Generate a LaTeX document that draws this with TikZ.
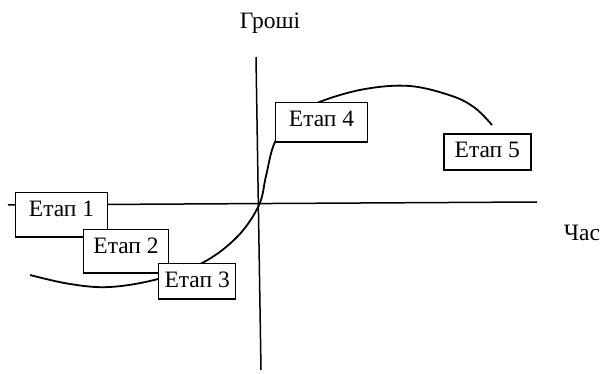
\documentclass[tikz,border=0pt]{standalone}
\usepackage{fontspec}
\setmainfont{Liberation Serif}
\usetikzlibrary{positioning}

\begin{document}
\begin{tikzpicture}[x=1pt,y=-1pt,line width=1.5pt,
    txt/.style={font=\fontsize{23.5}{27}\selectfont,inner sep=0pt},
    etap/.style={txt,draw,line width=1.1pt,fill=white,anchor=north west,text height=23.5pt}]
  \useasboundingbox (0,0) rectangle (603,374);

  % axes
  \coordinate (xl) at (8,205);
  \coordinate (xr) at (537,202);
  \coordinate (yt) at (256,57);
  \coordinate (yb) at (261,370);
  \draw (xl) -- (xr);
  \draw (yt) -- (yb);
  \node [txt,anchor=base] (groshi) at (270,29) {Гроші};
  \node [txt,anchor=base] (chas)   at (582,241) {Час};

  % curve
  \draw [line width=1.8pt] plot [smooth,tension=0.6] coordinates {
      (30,275) (70,284) (110,287) (158,279) (204,262) (238,236)
      (259,205) (266,176) (275,142) (295,115) (322,101) (365,89)
      (410,86) (452,96) (475,108) (492,125)};

  % stages
  \node [etap,text depth=21pt,minimum width=92pt] (e1) at (15,192)  {Етап 1};
  \node [etap,text depth=20pt,minimum width=85pt] (e2) at (83,229)  {Етап 2};
  \node [etap,text depth=12pt,minimum width=77pt,line width=1.4pt] (e3) at (158,263) {Етап 3};
  \node [etap,text depth=16pt,minimum width=92pt] (e4) at (275,102) {Етап 4};
  \node [etap,text depth=13pt,minimum width=87pt,line width=1.6pt] (e5) at (443,133) {Етап 5};
\end{tikzpicture}
\end{document}
